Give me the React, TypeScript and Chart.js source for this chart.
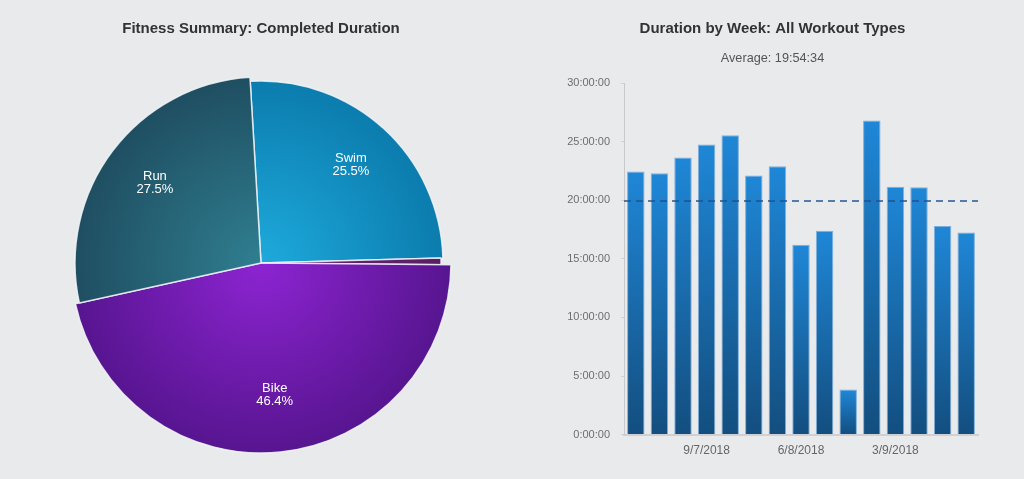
import React, { useEffect, useRef } from 'react';
import { Chart, registerables } from 'chart.js';

Chart.register(...registerables);

// ---------- data ----------
const SLICE_LABELS = ['Swim', 'Other', 'Bike', 'Run'];
const SLICE_PERCENTS = [25.5, 0.6, 46.4, 27.5];

const WEEKS = [
  '18/6/2018', '25/6/2018', '2/7/2018', '9/7/2018', '16/7/2018',
  '23/7/2018', '30/7/2018', '6/8/2018', '13/8/2018', '20/8/2018',
  '27/8/2018', '3/9/2018', '10/9/2018', '17/9/2018', '24/9/2018',
];
const WEEK_HOURS = [22.45, 22.3, 23.65, 24.75, 25.55, 22.1, 22.9, 16.2, 17.4, 3.85, 26.8, 21.15, 21.1, 17.8, 17.25];
const AVERAGE_LABEL = '19:54:34';
const AVERAGE_HOURS = 19 + 54 / 60 + 34 / 3600;
const Y_MAX_HOURS = 30;
const Y_STEP_HOURS = 5;

// ---------- styles ----------
const FONT = "'Liberation Sans', Arial, Helvetica, sans-serif";
const BG = '#e9eaec';
const PIE_RADIUS = 190;
const SLICE_RADIUS_SCALE = [182 / 190, 180 / 190, 1, 186 / 190];
const SLICE_INNER = ['#1eaadc', '#6a2474', '#8d24d2', '#2f7f91'];
const SLICE_OUTER = ['#0a7aab', '#5a1e62', '#571590', '#1f4d60'];
const LABEL_DISTANCE = 133;

Chart.defaults.font.family = FONT;

const sliceRadiusPlugin = {
  id: 'sliceRadius',
  afterDatasetsUpdate(chart: any) {
    const meta = chart.getDatasetMeta(0);
    meta.data.forEach((el: any, i: number) => {
      el.outerRadius = PIE_RADIUS * SLICE_RADIUS_SCALE[i];
    });
  },
};

const pieLabelPlugin = {
  id: 'pieLabels',
  afterDatasetsDraw(chart: any) {
    const { ctx } = chart;
    const meta = chart.getDatasetMeta(0);
    ctx.save();
    ctx.fillStyle = '#ffffff';
    ctx.font = `13px ${FONT}`;
    ctx.textAlign = 'center';
    ctx.textBaseline = 'middle';
    meta.data.forEach((el: any, i: number) => {
      if (SLICE_PERCENTS[i] < 2) return;
      const mid = (el.startAngle + el.endAngle) / 2;
      const x = el.x + LABEL_DISTANCE * Math.cos(mid);
      const y = el.y + LABEL_DISTANCE * Math.sin(mid);
      ctx.fillText(SLICE_LABELS[i], x, y - 6.5);
      ctx.fillText(`${SLICE_PERCENTS[i].toFixed(1)}%`, x, y + 6.5);
    });
    ctx.restore();
  },
};

const averageLinePlugin = {
  id: 'averageLine',
  afterDatasetsDraw(chart: any) {
    const { ctx, chartArea, scales } = chart;
    const y = Math.round(scales.y.getPixelForValue(AVERAGE_HOURS));
    ctx.save();
    ctx.strokeStyle = 'rgba(30,80,140,0.72)';
    ctx.lineWidth = 2;
    ctx.setLineDash([7, 5]);
    ctx.beginPath();
    ctx.moveTo(chartArea.left, y);
    ctx.lineTo(chartArea.right, y);
    ctx.stroke();
    ctx.restore();
  },
};

function fmtHours(v: number) {
  return `${v}:00:00`;
}

export default function App() {
  const pieRef = useRef<HTMLCanvasElement>(null);
  const barRef = useRef<HTMLCanvasElement>(null);

  useEffect(() => {
    const pie = new Chart(pieRef.current!, {
      type: 'pie',
      data: {
        labels: SLICE_LABELS,
        datasets: [
          {
            data: SLICE_PERCENTS,
            backgroundColor: (c: any) => {
              const chart = c.chart;
              const area = chart.chartArea;
              const i = c.dataIndex;
              if (!area) return SLICE_INNER[i];
              const cx = (area.left + area.right) / 2;
              const cy = (area.top + area.bottom) / 2;
              const g = chart.ctx.createRadialGradient(cx, cy, 0, cx, cy, PIE_RADIUS);
              g.addColorStop(0, SLICE_INNER[i]);
              g.addColorStop(1, SLICE_OUTER[i]);
              return g;
            },
            borderColor: 'rgba(240,244,248,0.85)',
            borderWidth: 1.5,
          },
        ],
      },
      options: {
        animation: false,
        responsive: false,
        rotation: -3.4,
        radius: PIE_RADIUS,
        layout: { padding: 0 },
        plugins: {
          legend: { display: false },
          tooltip: { enabled: false },
          title: {
            display: true,
            text: 'Fitness Summary: Completed Duration',
            color: '#333333',
            font: { family: FONT, size: 15, weight: 'bold' },
            padding: { top: 20, bottom: 9 },
          },
        },
      } as any,
      plugins: [sliceRadiusPlugin, pieLabelPlugin],
    });

    const bar = new Chart(barRef.current!, {
      type: 'bar',
      data: {
        labels: WEEKS,
        datasets: [
          {
            data: WEEK_HOURS,
            backgroundColor: (c: any) => {
              const chart = c.chart;
              const area = chart.chartArea;
              if (!area || !chart.scales.y) return '#1a6fb5';
              const top = chart.scales.y.getPixelForValue(WEEK_HOURS[c.dataIndex]);
              const bottom = chart.scales.y.getPixelForValue(0);
              const g = chart.ctx.createLinearGradient(0, top, 0, bottom);
              g.addColorStop(0, '#1f87d7');
              g.addColorStop(1, '#134e7f');
              return g;
            },
            borderColor: 'rgba(110,165,215,0.85)',
            borderWidth: 1,
            barPercentage: 0.74,
            categoryPercentage: 1,
          },
        ],
      },
      options: {
        animation: false,
        responsive: false,
        layout: { padding: { left: 41, right: 46, top: 0, bottom: 12 } },
        plugins: {
          legend: { display: false },
          tooltip: { enabled: false },
          title: {
            display: true,
            text: 'Duration by Week: All Workout Types',
            color: '#333333',
            font: { family: FONT, size: 15, weight: 'bold' },
            padding: { top: 20, bottom: 6 },
          },
          subtitle: {
            display: true,
            text: `Average: ${AVERAGE_LABEL}`,
            color: '#555555',
            font: { family: FONT, size: 12.7 },
            padding: { top: 6.4, bottom: 17.4 },
          },
        },
        scales: {
          x: {
            grid: { display: false, drawTicks: false },
            border: { display: true, color: '#cfd0d3', width: 2 },
            ticks: {
              autoSkip: false,
              maxRotation: 0,
              padding: 9,
              color: '#666666',
              font: { family: FONT, size: 12 },
              callback: (_v: any, i: number) => (i % 4 === 3 ? WEEKS[i] : ''),
            },
          },
          y: {
            min: 0,
            max: Y_MAX_HOURS,
            afterFit: (scale: any) => {
              scale.width = 57;
            },
            grid: { drawOnChartArea: false, drawTicks: true, tickLength: 3, color: '#d0d1d3' },
            border: { display: true, color: '#c8c9cc', width: 1 },
            ticks: {
              stepSize: Y_STEP_HOURS,
              padding: 11,
              color: '#6e6e6e',
              font: { family: FONT, size: 11 },
              callback: (v: any) => fmtHours(v),
            },
          },
        },
      } as any,
      plugins: [averageLinePlugin],
    });

    return () => {
      pie.destroy();
      bar.destroy();
    };
  }, []);

  return (
    <div
      style={{
        position: 'fixed',
        left: 0,
        top: 0,
        width: 1024,
        height: 479,
        background: BG,
        overflow: 'hidden',
      }}
    >
      <canvas ref={pieRef} width={522} height={479} style={{ position: 'absolute', left: 0, top: 0 }} />
      <canvas ref={barRef} width={498} height={479} style={{ position: 'absolute', left: 526, top: 0 }} />
    </div>
  );
}
